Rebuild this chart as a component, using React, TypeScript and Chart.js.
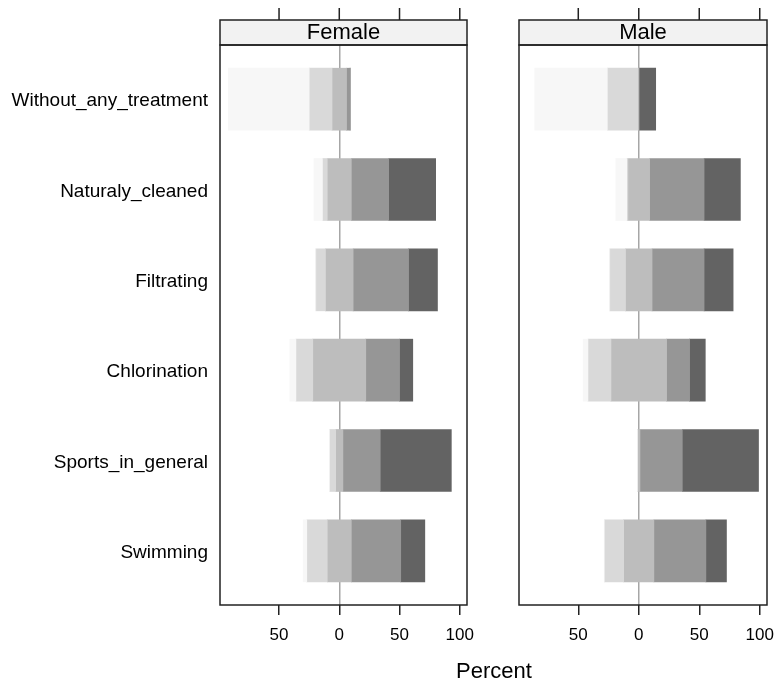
import React, { useEffect, useRef } from 'react';
import { Chart, registerables } from 'chart.js';

Chart.register(...registerables);

const categories = [
  'Without_any_treatment',
  'Naturaly_cleaned',
  'Filtrating',
  'Chlorination',
  'Sports_in_general',
  'Swimming',
];

const levelNames = ['Level 1', 'Level 2', 'Level 3', 'Level 4', 'Level 5'];
const levelColors = ['#F7F7F7', '#D9D9D9', '#BDBDBD', '#969696', '#636363'];

// Female percentages per level (rows follow categories)
const femaleL1 = [67, 7, 0, 5, 0, 3];
const femaleL2 = [19, 4, 8, 14, 5, 17];
const femaleL3 = [12, 20, 23, 44, 6, 20];
const femaleL4 = [3, 31, 46, 28, 31, 41];
const femaleL5 = [0, 39, 24, 11, 59, 20];

// Male percentages per level
const maleL1 = [60, 9, 0, 4, 0, 0];
const maleL2 = [26, 1, 13, 19, 0, 16];
const maleL3 = [0, 18, 22, 46, 2, 25];
const maleL4 = [0, 45, 43, 19, 35, 43];
const maleL5 = [14, 30, 24, 13, 63, 17];

const xTicks = [-50, 0, 50, 100];
const xMin = -99;
const xMax = 106;

const FONT = '"Liberation Sans", Arial, sans-serif';

function buildDatasets(levels: number[][]) {
  const segs: any[][] = levels.map(() => []);
  for (let i = 0; i < categories.length; i++) {
    let start = -(levels[0][i] + levels[1][i] + levels[2][i] / 2);
    for (let k = 0; k < levels.length; k++) {
      const end = start + levels[k][i];
      segs[k].push({ x: [start, end], y: i + 1 });
      start = end;
    }
  }
  return segs.map((data, k) => ({
    label: levelNames[k],
    data,
    backgroundColor: levelColors[k],
    borderWidth: 0,
    grouped: false,
    barThickness: 62,
  }));
}

function panelPlugin(title: string) {
  return {
    id: 'panelStrip',
    afterDraw(chart: any) {
      const { ctx, chartArea: a, scales } = chart;
      const xs = scales.x;
      const stripTop = a.top - 25;
      ctx.save();
      ctx.fillStyle = '#F2F2F2';
      ctx.fillRect(a.left, stripTop, a.right - a.left, a.top - stripTop);
      ctx.strokeStyle = '#222';
      ctx.lineWidth = 1.5;
      ctx.strokeRect(a.left, stripTop, a.right - a.left, a.top - stripTop);
      ctx.strokeRect(a.left, a.top, a.right - a.left, a.bottom - a.top);
      ctx.beginPath();
      for (const v of xTicks) {
        const px = xs.getPixelForValue(v);
        ctx.moveTo(px, stripTop - 12);
        ctx.lineTo(px, stripTop);
      }
      ctx.stroke();
      ctx.fillStyle = '#000';
      ctx.font = `22px ${FONT}`;
      ctx.textAlign = 'center';
      ctx.textBaseline = 'middle';
      ctx.fillText(title, (a.left + a.right) / 2, stripTop + 13);
      ctx.restore();
    },
  };
}

function makeConfig(title: string, levels: number[][], showLabels: boolean, padLeft: number, padRight: number): any {
  return {
    type: 'bar',
    data: { datasets: buildDatasets(levels) },
    plugins: [panelPlugin(title)],
    options: {
      responsive: false,
      animation: false,
      indexAxis: 'y',
      layout: { padding: { top: 45, right: padRight, left: padLeft, bottom: 0 } },
      plugins: { legend: { display: false }, tooltip: { enabled: false } },
      scales: {
        x: {
          type: 'linear',
          min: xMin,
          max: xMax,
          afterBuildTicks: (s: any) => {
            s.ticks = xTicks.map((v) => ({ value: v }));
          },
          afterFit: (s: any) => {
            s.height = 81;
            s.paddingLeft = 0;
            s.paddingRight = 0;
          },
          grid: {
            color: (c: any) => (c.tick && c.tick.value === 0 ? '#A6A6A6' : 'rgba(0,0,0,0)'),
            lineWidth: 1.5,
            drawTicks: true,
            tickLength: 10,
            tickColor: '#222',
            tickWidth: 1.5,
          },
          border: { display: false },
          ticks: {
            callback: (v: any) => String(Math.abs(Number(v))),
            font: { family: FONT, size: 17 },
            color: '#000',
            padding: 10,
            maxRotation: 0,
            autoSkip: false,
          },
        },
        y: {
          type: 'linear',
          display: showLabels,
          offset: false,
          min: 0.4,
          max: 6.6,
          reverse: true,
          afterBuildTicks: (s: any) => {
            s.ticks = categories.map((_, i) => ({ value: i + 1 }));
          },
          afterFit: (s: any) => {
            s.width = showLabels ? 220 : 0;
          },
          grid: { display: false, drawTicks: false },
          border: { display: false },
          ticks: {
            callback: (v: any) => categories[Number(v) - 1] ?? '',
            font: { family: FONT, size: 19 },
            color: '#000',
            padding: 12,
            labelOffset: 2,
            autoSkip: false,
          },
        },
      },
    },
  };
}

export default function App() {
  const femaleRef = useRef<HTMLCanvasElement | null>(null);
  const maleRef = useRef<HTMLCanvasElement | null>(null);

  useEffect(() => {
    const f = new Chart(
      femaleRef.current as HTMLCanvasElement,
      makeConfig('Female', [femaleL1, femaleL2, femaleL3, femaleL4, femaleL5], true, 0, 13)
    );
    const m = new Chart(
      maleRef.current as HTMLCanvasElement,
      makeConfig('Male', [maleL1, maleL2, maleL3, maleL4, maleL5], false, 29, 10)
    );
    return () => {
      f.destroy();
      m.destroy();
    };
  }, []);

  return (
    <div style={{ position: 'absolute', left: 0, top: 0, width: 777, height: 686, background: '#fff' }}>
      <canvas
        ref={femaleRef}
        width={480}
        height={686}
        style={{ position: 'absolute', left: 0, top: 0, width: 480, height: 686 }}
      />
      <canvas
        ref={maleRef}
        width={287}
        height={686}
        style={{ position: 'absolute', left: 490, top: 0, width: 287, height: 686 }}
      />
      <div
        style={{
          position: 'absolute',
          left: 394,
          top: 658,
          width: 200,
          textAlign: 'center',
          fontFamily: FONT,
          fontSize: 22,
          lineHeight: '26px',
          color: '#000',
        }}
      >
        Percent
      </div>
    </div>
  );
}
